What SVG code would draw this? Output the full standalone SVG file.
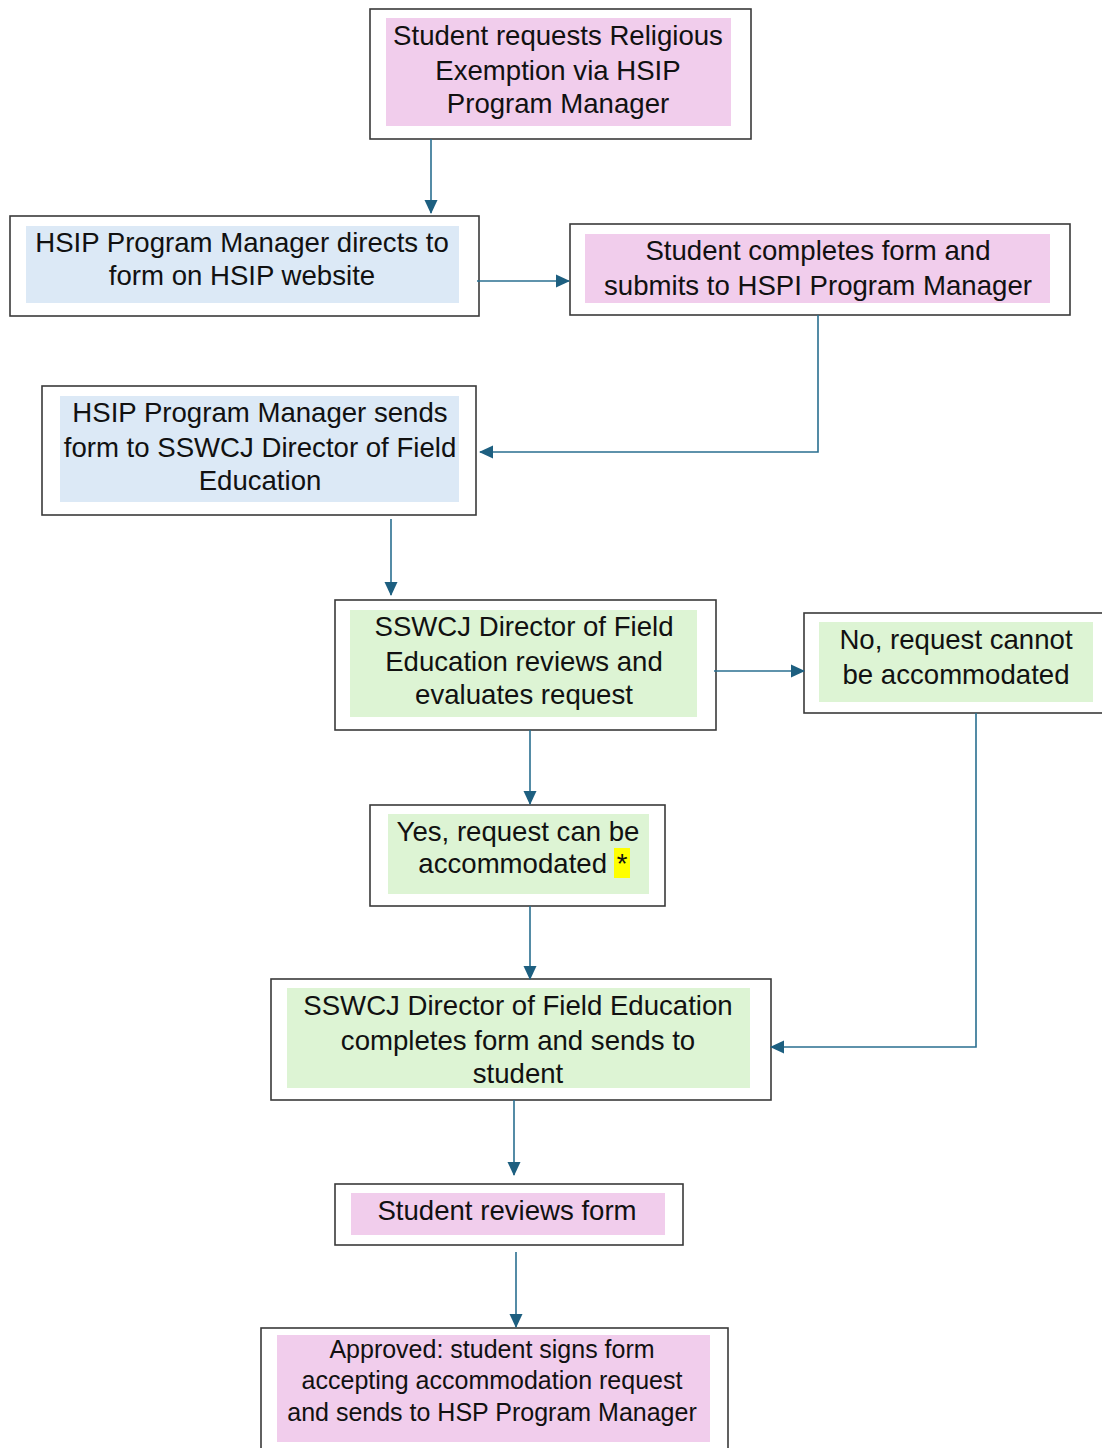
<svg xmlns="http://www.w3.org/2000/svg" width="1102" height="1448" viewBox="0 0 1102 1448">
<defs>
<marker id="ah" markerWidth="14" markerHeight="14" refX="13" refY="7" orient="auto" markerUnits="userSpaceOnUse" viewBox="0 0 14 14">
<path d="M0,0.5 L14,7 L0,13.5 Z" fill="#1d5f80"/>
</marker>
<style>
.box{fill:#fff;stroke:#3a3a3a;stroke-width:1.6}
.pink{fill:#f1cdec}
.blue{fill:#dce9f6}
.green{fill:#ddf4d4}
text{font-family:"Liberation Sans",Arial,sans-serif;font-size:27.6px;fill:#111;text-anchor:middle;dominant-baseline:central}
.sm{font-size:25px}
.conn{fill:none;stroke:#2a6f90;stroke-width:1.6;marker-end:url(#ah)}
</style>
</defs>
<rect width="1102" height="1448" fill="#fff"/>
<g id="n1">
<rect class="box" x="370" y="9" width="381" height="130"/>
<rect class="pink" x="386" y="18" width="345" height="108"/>
<text x="558" y="35">Student requests Religious</text>
<text x="558" y="70">Exemption via HSIP</text>
<text x="558" y="103">Program Manager</text>
</g>
<g id="n2">
<rect class="box" x="10" y="216" width="469" height="100"/>
<rect class="blue" x="26" y="226" width="433" height="77"/>
<text x="242" y="242">HSIP Program Manager directs to</text>
<text x="242" y="275">form on HSIP website</text>
</g>
<g id="n3">
<rect class="box" x="570" y="224" width="500" height="91"/>
<rect class="pink" x="585" y="234" width="465" height="69"/>
<text x="818" y="250">Student completes form and</text>
<text x="818" y="285">submits to HSPI Program Manager</text>
</g>
<g id="n4">
<rect class="box" x="42" y="386" width="434" height="129"/>
<rect class="blue" x="60" y="396" width="399" height="106"/>
<text x="260" y="412">HSIP Program Manager sends</text>
<text x="260" y="447">form to SSWCJ Director of Field</text>
<text x="260" y="480">Education</text>
</g>
<g id="n5">
<rect class="box" x="335" y="600" width="381" height="130"/>
<rect class="green" x="350" y="610" width="347" height="107"/>
<text x="524" y="626">SSWCJ Director of Field</text>
<text x="524" y="661">Education reviews and</text>
<text x="524" y="694">evaluates request</text>
</g>
<g id="n6">
<rect class="box" x="804" y="613" width="310" height="100"/>
<rect class="green" x="819" y="622" width="274" height="80"/>
<text x="956" y="639">No, request cannot</text>
<text x="956" y="674">be accommodated</text>
</g>
<g id="n7">
<rect class="box" x="370" y="805" width="295" height="101"/>
<rect class="green" x="388" y="814" width="261" height="80"/>
<rect x="614" y="848" width="16" height="30" fill="#ffff00"/>
<text x="518" y="831">Yes, request can be</text>
<text x="607" y="863" style="text-anchor:end">accommodated</text>
<text x="622" y="863">*</text>
</g>
<g id="n8">
<rect class="box" x="271" y="979" width="500" height="121"/>
<rect class="green" x="287" y="988" width="463" height="100"/>
<text x="518" y="1005">SSWCJ Director of Field Education</text>
<text x="518" y="1040">completes form and sends to</text>
<text x="518" y="1073">student</text>
</g>
<g id="n9">
<rect class="box" x="335" y="1184" width="348" height="61"/>
<rect class="pink" x="351" y="1193" width="314" height="42"/>
<text x="507" y="1210">Student reviews form</text>
</g>
<g id="n10">
<rect class="box" x="261" y="1328" width="467" height="130"/>
<rect class="pink" x="277" y="1335" width="433" height="107"/>
<text class="sm" x="492" y="1349">Approved: student signs form</text>
<text class="sm" x="492" y="1380">accepting accommodation request</text>
<text class="sm" x="492" y="1412">and sends to HSP Program Manager</text>
</g>
<g id="connectors">
<path class="conn" d="M431,139 V213"/>
<path class="conn" d="M477,281 H569"/>
<path class="conn" d="M818,315 V452 H480"/>
<path class="conn" d="M391,519 V595"/>
<path class="conn" d="M714,671 H804"/>
<path class="conn" d="M530,730 V804"/>
<path class="conn" d="M530,906 V979"/>
<path class="conn" d="M976,713 V1047 H771"/>
<path class="conn" d="M514,1100 V1175"/>
<path class="conn" d="M516,1252 V1327"/>
</g>
</svg>
